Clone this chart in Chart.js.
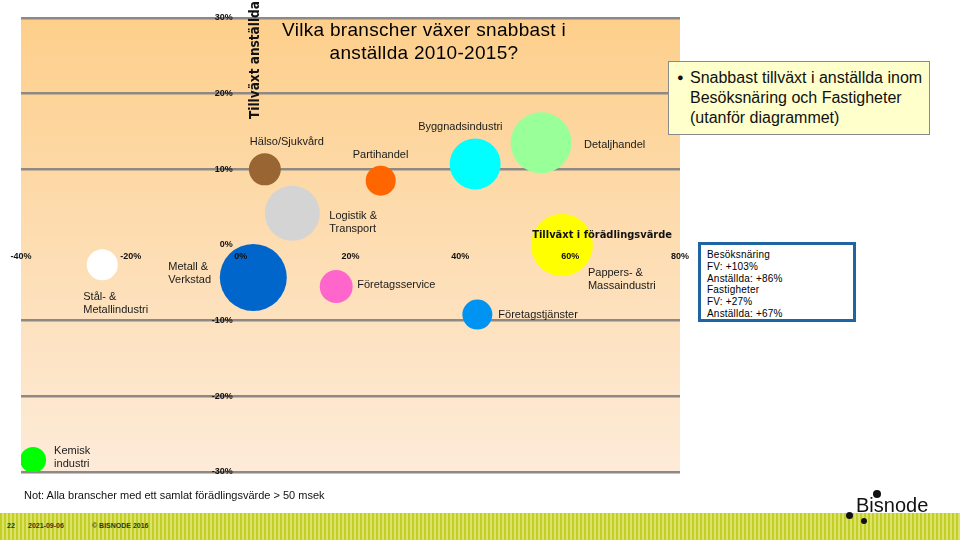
<!DOCTYPE html>
<html lang="sv">
<head>
<meta charset="utf-8">
<script src="https://cdn.jsdelivr.net/npm/chart.js@4"></script>
<style>
  html, body { margin: 0; padding: 0; background: #fff; }
  #wrap { position: relative; width: 960px; height: 540px; overflow: hidden; font-family: "Liberation Sans", Arial, sans-serif; }
  #grafico { position: absolute; left: 0; top: 0; }
  .rubrik { position: absolute; left: 224px; top: 18px; width: 400px; text-align: center; font-size: 19px; line-height: 23px; letter-spacing: 0.3px; color: #000; }
  .notis { position: absolute; left: 668px; top: 61px; width: 250px; height: 58px; padding: 6px 2px 8px 8px; background: #ffffcc; border: 1px solid #8a8a8a; font-size: 16px; line-height: 20px; color: #111; }
  .notis span { position: absolute; left: 8px; top: 5px; font-size: 11px; }
  .notis div { margin-left: 13px; white-space: nowrap; }
  .faktaruta { position: absolute; left: 698px; top: 242px; width: 143px; height: 68px; padding: 4px 3px 2px 6px; border: 3px solid #1f64a3; background: #fff; font-size: 10px; line-height: 11.8px; letter-spacing: 0.2px; color: #000; }
  .fotnot { position: absolute; left: 24px; top: 489px; font-size: 11px; color: #111; }
  .band { position: absolute; left: 0; top: 513px; width: 960px; height: 27px;
    background: repeating-linear-gradient(90deg, #c4cf25 0px, #c4cf25 2px, #dbe36a 2px, #dbe36a 4px); }
  .band b { position: absolute; top: 9px; font-size: 7px; color: #2d3a10; }
  .logo { position: absolute; left: 856px; top: 494px; font-size: 20px; color: #111; }
  .prick { position: absolute; border-radius: 50%; background: #111; }
</style>
</head>
<body>
<div id="wrap">
  <canvas id="grafico" width="960" height="540"></canvas>
  <div class="rubrik">Vilka branscher växer snabbast i<br>anställda 2010-2015?</div>
  <div class="notis"><span>●</span><div>Snabbast tillväxt i anställda inom<br>Besöksnäring och Fastigheter<br>(utanför diagrammet)</div></div>
  <div class="faktaruta">Besöksnäring<br>FV: +103%<br>Anställda: +86%<br>Fastigheter<br>FV: +27%<br>Anställda: +67%</div>
  <div class="fotnot">Not: Alla branscher med ett samlat förädlingsvärde &gt; 50 msek</div>
  <div class="band">
    <b style="left:7px">22</b>
    <b style="left:28px">2021-09-06</b>
    <b style="left:92px">© BISNODE 2016</b>
  </div>
  <div class="logo">Bisnode</div>
  <div class="prick" style="left:873px; top:490px; width:8px; height:8px"></div>
  <div class="prick" style="left:846px; top:512px; width:7px; height:7px"></div>
  <div class="prick" style="left:861px; top:518px; width:6px; height:6px"></div>
</div>

<script>
// Data
const branscher = ['Hälso/Sjukvård', 'Logistik & Transport', 'Partihandel', 'Byggnadsindustri', 'Detaljhandel',
  'Pappers- & Massaindustri', 'Metall & Verkstad', 'Företagsservice', 'Företagstjänster',
  'Stål- & Metallindustri', 'Kemisk industri'];
const tillvaxtFV = [4.4, 9.4, 25.5, 42.7, 54.7, 58.5, 2.3, 17.4, 43.1, -25.2, -37.8];
const tillvaxtAnst = [10.0, 4.2, 8.5, 10.7, 13.5, 0.0, -4.3, -5.5, -9.2, -2.6, -28.4];
const storlek = [16, 27.5, 15, 25.5, 30.5, 31, 33.5, 16.5, 15, 15.5, 13];
const xTicks = [-40, -20, 0, 20, 40, 60, 80];
const yTicks = [-30, -20, -10, 0, 10, 20, 30];

// Utseende
const farger = ['#996633', '#d4d4d4', '#ff6600', '#00ffff', '#99ff99', '#ffff00', '#0066cc',
  '#ff66cc', '#0094f2', '#ffffff', '#00ff00'];
// etikettrader och placering relativt bubblan (px)
const etiketter = [
  { rader: ['Hälso/Sjukvård'], dx: -15, dy: -27 },
  { rader: ['Logistik &', 'Transport'], dx: 37, dy: 3 },
  { rader: ['Partihandel'], dx: -28, dy: -26 },
  { rader: ['Byggnadsindustri'], dx: -57, dy: -37 },
  { rader: ['Detaljhandel'], dx: 43, dy: 2 },
  { rader: ['Pappers- &', 'Massaindustri'], dx: 26, dy: 28 },
  { rader: ['Metall &', 'Verkstad'], dx: -85, dy: -11 },
  { rader: ['Företagsservice'], dx: 21, dy: -2 },
  { rader: ['Företagstjänster'], dx: 21, dy: 0 },
  { rader: ['Stål- &', 'Metallindustri'], dx: -19, dy: 32 },
  { rader: ['Kemisk', 'industri'], dx: 21, dy: -9 }
];

const punkter = branscher.map((b, i) => ({ x: tillvaxtFV[i], y: tillvaxtAnst[i], r: storlek[i] }));

// Bakgrund i diagramytan
const bakgrund = {
  id: 'bakgrund',
  beforeDraw(chart) {
    const { ctx, chartArea: a } = chart;
    const g = ctx.createLinearGradient(0, a.top, 0, a.bottom);
    g.addColorStop(0, '#fdcf8b');
    g.addColorStop(1, '#fdebd9');
    ctx.save();
    ctx.fillStyle = g;
    ctx.fillRect(a.left, a.top, a.right - a.left, a.bottom - a.top);
    ctx.restore();
  }
};

// Texter ovanpå bubblorna
const texter = {
  id: 'texter',
  afterDatasetsDraw(chart) {
    const { ctx, scales: { x, y } } = chart;
    ctx.save();
    // bubbeletiketter
    ctx.font = '11px "Liberation Sans", Arial, sans-serif';
    ctx.fillStyle = '#1a1a1a';
    ctx.textAlign = 'left';
    ctx.textBaseline = 'middle';
    const meta = chart.getDatasetMeta(0);
    meta.data.forEach((el, i) => {
      const e = etiketter[i];
      e.rader.forEach((rad, j) => {
        ctx.fillText(rad, el.x + e.dx, el.y + e.dy + j * 13);
      });
    });

    // axelvärden
    ctx.font = 'bold 9px "Liberation Sans", Arial, sans-serif';
    ctx.fillStyle = '#111';
    const x0 = x.getPixelForValue(0);
    const y0 = y.getPixelForValue(0);
    ctx.textAlign = 'right';
    yTicks.forEach(v => ctx.fillText(v + '%', x0 - 8, y.getPixelForValue(v)));
    ctx.textAlign = 'center';
    xTicks.forEach(v => ctx.fillText(v + '%', x.getPixelForValue(v), y0 + 12));

    // axeltitlar
    ctx.font = 'bold 11px "Liberation Sans Narrow", "DejaVu Sans Condensed", sans-serif';
    ctx.textAlign = 'right';
    ctx.fillText('Tillväxt i förädlingsvärde', chart.chartArea.right - 8, y0 - 10);
    ctx.translate(x0 + 15, 60);
    ctx.rotate(-Math.PI / 2);
    ctx.textAlign = 'center';
    ctx.font = 'bold 13.5px "Liberation Sans Narrow", "DejaVu Sans Condensed", sans-serif';
    ctx.fillText('Tillväxt anställda', 0, 0);
    ctx.restore();
  }
};

new Chart(document.getElementById('grafico'), {
  type: 'bubble',
  data: {
    datasets: [{
      data: punkter,
      backgroundColor: farger,
      borderWidth: 0,
      hoverRadius: 0,
      clip: 0
    }]
  },
  options: {
    responsive: false,
    animation: false,
    events: [],
    layout: { autoPadding: false, padding: { left: 21, top: 18, right: 280, bottom: 68 } },
    plugins: { legend: { display: false }, tooltip: { enabled: false } },
    scales: {
      x: {
        type: 'linear', min: -40, max: 80, position: { y: 0 },
        afterBuildTicks: s => { s.ticks = xTicks.map(v => ({ value: v })); },
        ticks: { display: false },
        grid: { display: false },
        border: { display: false }
      },
      y: {
        type: 'linear', min: -30, max: 30, position: { x: 0 },
        afterBuildTicks: s => { s.ticks = yTicks.map(v => ({ value: v })); },
        ticks: { display: false },
        grid: {
          drawTicks: false,
          lineWidth: 2.5,
          color: c => (c.tick && c.tick.value === 0) ? 'rgba(0,0,0,0)' : '#8e8984'
        },
        border: { display: false }
      }
    }
  },
  plugins: [bakgrund, texter]
});
</script>
</body>
</html>
